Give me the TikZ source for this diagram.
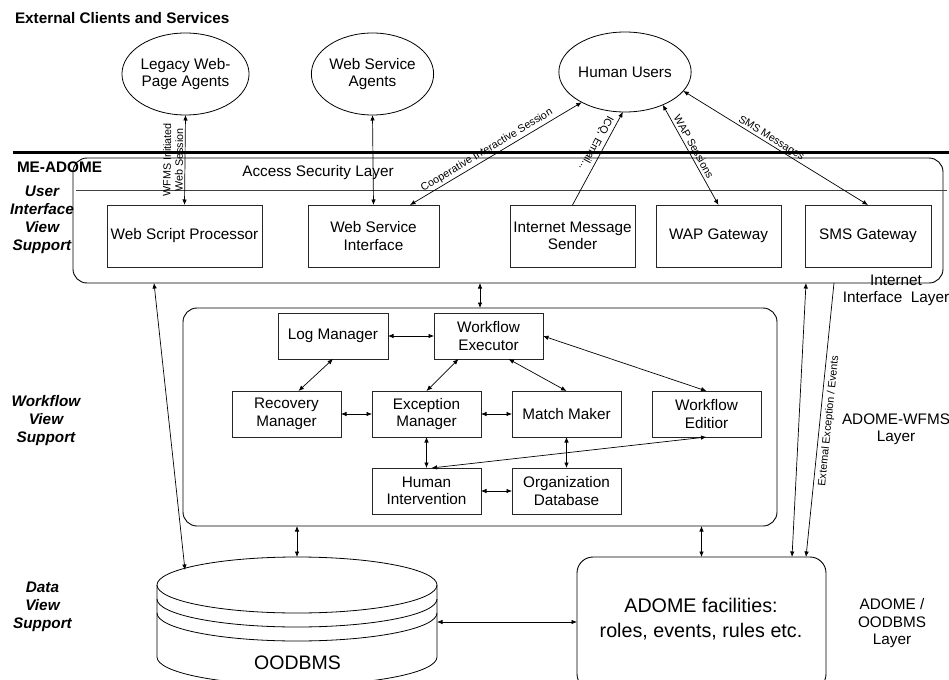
\documentclass[tikz,border=0pt]{standalone}
\usepackage{fontspec}
\setmainfont{Liberation Sans}
\usetikzlibrary{arrows.meta,calc,shapes.geometric}
\begin{document}
\begin{tikzpicture}[x=1bp,y=-1bp,
  every node/.style={inner sep=0pt, outer sep=0pt, align=center, font=\fontsize{15.3bp}{17.5bp}\selectfont},
  ibox/.style={draw=black!85, line width=0.8bp, minimum height=46bp, minimum width=109bp},
  ubox/.style={draw=black!85, line width=0.8bp, minimum height=62bp},
  bigbox/.style={draw, line width=0.9bp, rounded corners=14bp},
  agent/.style={draw, ellipse, line width=0.8bp, minimum width=121bp, minimum height=82bp},
  lbl/.style={font=\fontsize{10.7bp}{12bp}\selectfont},
  boldtxt/.style={font=\fontsize{15.3bp}{17.5bp}\selectfont\bfseries},
  sidetxt/.style={font=\fontsize{15.3bp}{18bp}\selectfont\bfseries\itshape},
  conn/.style={line width=0.7bp},
  dblarrow/.style={conn, arrows={Latex[length=5.5bp,width=4.5bp]-Latex[length=5.5bp,width=4.5bp]}},
  endarrow/.style={conn, arrows={-Latex[length=5.5bp,width=4.5bp]}},
  startarrow/.style={conn, arrows={Latex[length=5.5bp,width=4.5bp]-}}
]
\useasboundingbox (0,0) rectangle (949,680);

% ---------- external clients ----------
\node[boldtxt, anchor=west] (title) at (15,18) {External Clients and Services};
\node[agent] (legacy) at (185.5,74) {Legacy Web-\\Page Agents};
\node[agent] (wsa) at (372.5,74) {Web Service\\Agents};
\node[agent, minimum width=116bp, minimum height=80bp] (hu) at (625,72) {Human Users};

% ---------- separator ----------
\draw[line width=2.4bp] (13,152.5) -- (949,152.5);
\node[boldtxt, anchor=west] (me) at (17,167) {ME-ADOME};

% ---------- user interface layer ----------
\node[bigbox, minimum width=870bp, minimum height=125bp] (ui) at (508,220.5) {};
\draw[line width=0.7bp, black!75] (76,190) -- (947,190);
\node (asl) at (318,173) {Access Security Layer};
\node[ubox, minimum width=155bp] (wsp) at (184.5,236) {Web Script Processor};
\node[ubox, minimum width=131bp] (wsi) at (373.5,236) {Web Service\\Interface};
\node[ubox, minimum width=125bp] (ims) at (572.5,236) {Internet Message\\Sender};
\node[ubox, minimum width=125bp] (wap) at (718.5,236) {WAP Gateway};
\node[ubox, minimum width=126bp] (sms) at (868,236) {SMS Gateway};
\node (iil) at (896,290.5) {Internet\\Interface~~Layer};

% ---------- workflow layer ----------
\node[bigbox, minimum width=594bp, minimum height=218bp] (wfms) at (480,417) {};
\node[ibox, minimum width=110bp] (log) at (333,336) {Log Manager};
\node[ibox] (wfe) at (488.5,336) {Workflow\\Executor};
\node[ibox] (rec) at (286.5,414) {Recovery\\Manager};
\node[ibox] (exc) at (426.5,414) {Exception\\Manager};
\node[ibox] (mm) at (566.5,414) {Match Maker};
\node[ibox] (wed) at (706.5,414) {Workflow\\Editior};
\node[ibox] (hi) at (426.5,491) {Human\\Intervention};
\node[ibox] (org) at (566.5,491) {Organization\\Database};
\node (wfl) at (896,429) {ADOME-WFMS\\Layer};

% ---------- data layer ----------
\node[bigbox, rounded corners=16bp, minimum width=249bp, minimum height=133bp] (adome) at (701.5,623.5) {};
\node[font=\fontsize{19.7bp}{25bp}\selectfont] (adometxt) at (701,619.5) {ADOME facilities:\\roles, events, rules etc.};
\node (aol) at (892,623.5) {ADOME /\\OODBMS\\Layer};
\begin{scope}[line width=0.8bp]
  \draw (297,585) ellipse [x radius=140bp, y radius=28bp];
  \draw (157,599) arc [start angle=180, end angle=360, x radius=140bp, y radius=28bp];
  \draw (157,613) arc [start angle=180, end angle=360, x radius=140bp, y radius=28bp];
  \draw (157,585) -- (157,657) arc [start angle=180, end angle=360, x radius=140bp, y radius=28bp] -- (437,585);
\end{scope}
\node[font=\fontsize{19.5bp}{22bp}\selectfont] (oodbms) at (297.5,663) {OODBMS};
\coordinate (dbtop) at (297,557);
\coordinate (dbleft) at (185,570);
\coordinate (dbright) at (437,622);

% ---------- side labels ----------
\node[sidetxt] (s1) at (42,220) {User\\Interface\\View\\Support};
\node[sidetxt] (s2) at (46,421) {Workflow\\View\\Support};
\node[sidetxt] (s3) at (42.5,607) {Data\\View\\Support};

% ---------- connectors: external ----------
\draw[dblarrow] (wsp.north) -- node[lbl, sloped, above=2bp] {WFMS Initiated\\Web Session} (legacy.south);
\draw[dblarrow] (wsi.north) -- (wsa.south);
\draw[dblarrow] ($(wsi.north east)+(-29,0)$) -- node[lbl, sloped, above=2.5bp, pos=0.47] {Cooperative Interactive Session} (hu.215);
\draw[startarrow] (hu.-93) -- node[lbl, sloped, allow upside down, below=4bp, pos=0.38] {ICQ, Email...} (ims.north);
\draw[dblarrow] (hu.-41) -- node[lbl, sloped, above=3bp, pos=0.45] {WAP Sessions} (wap.north);
\draw[dblarrow] (hu.-18) -- node[lbl, sloped, above=0.8bp, pos=0.46] {SMS Messages} (sms.north);

% ---------- connectors: between layers ----------
\draw[dblarrow] (wfms.north |- ui.south) -- (wfms.north);
\draw[dblarrow] ($(ui.south west)+(81,0)$) -- (dbleft);
\draw[dblarrow] ($(ui.south west)+(733,0)$) -- ($(adome.north west)+(215,0)$);
\draw[startarrow] ($(adome.north west)+(229,0)$) -- node[lbl, sloped, below=4bp] {External Exception / Events} ($(ui.south west)+(761,0)$);
\draw[dblarrow] (wfms.south -| dbtop) -- (dbtop);
\draw[dblarrow] (adome.north |- wfms.south) -- (adome.north);
\draw[dblarrow] (dbright) -- (dbright -| adome.west);

% ---------- connectors: workflow ----------
\draw[dblarrow] (log.east) -- (wfe.west);
\draw[dblarrow] (log.south) -- ($(rec.north)+(12,0)$);
\draw[dblarrow] ($(wfe.south)+(-30,0)$) -- (exc.north);
\draw[dblarrow] ($(wfe.south)+(20,0)$) -- (mm.north);
\draw[dblarrow] (wfe.east) -- (wed.north);
\draw[dblarrow] (rec.east) -- (exc.west);
\draw[dblarrow] (exc.east) -- (mm.west);
\draw[dblarrow] (exc.south) -- (hi.north);
\draw[dblarrow] (mm.south) -- (org.north);
\draw[dblarrow] (hi.east) -- (org.west);
\draw[dblarrow] (wed.south) -- ($(hi.north)+(5,0)$);
\end{tikzpicture}
\end{document}
